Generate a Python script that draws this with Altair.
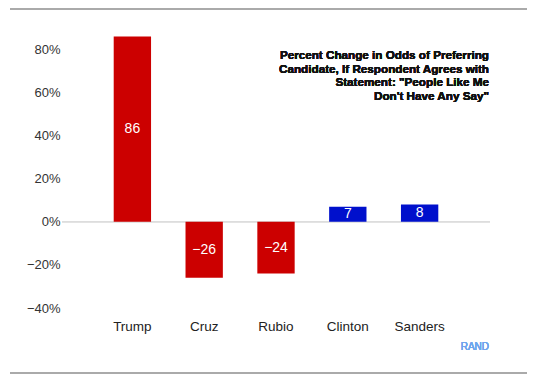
import altair as alt
import pandas as pd

candidates = ["Trump", "Cruz", "Rubio", "Clinton", "Sanders"]
values = [86, -26, -24, 7, 8]
parties = ["R", "R", "R", "D", "D"]
y_ticks = [-40, -20, 0, 20, 40, 60, 80]
title_lines = [
    "Percent Change in Odds of Preferring",
    "Candidate, If Respondent Agrees with",
    "Statement: \"People Like Me",
    "Don't Have Any Say\"",
]
source_label = "RAND"

labels = [("\u2212" + str(abs(v))) if v < 0 else str(v) for v in values]
df = pd.DataFrame({"cand": candidates, "v": values, "party": parties,
                   "label": labels, "mid": [v / 2 for v in values]})

FONT = "Liberation Sans"
W, H = 428, 278

x = alt.X("cand:N", sort=candidates,
          scale=alt.Scale(paddingInner=0.48, paddingOuter=0.72),
          axis=alt.Axis(title=None, labelAngle=0, domain=False, ticks=False, grid=False,
                        labelPadding=11, labelFontSize=13.5, labelColor="#222",
                        labelFont=FONT))
yscale = alt.Scale(domain=[-40, 89], nice=False, zero=False)

bars = alt.Chart(df).mark_bar().encode(
    x=x,
    y=alt.Y("v:Q", scale=yscale,
            axis=alt.Axis(title=None, values=y_ticks, domain=False, ticks=False,
                          grid=False, labelPadding=2, labelFontSize=13,
                          labelColor="#333", labelFont=FONT,
                          labelExpr="(datum.value < 0 ? '\u2212' + abs(datum.value) : datum.value) + '%'")),
    y2=alt.datum(0),
    color=alt.Color("party:N", scale=alt.Scale(domain=["R", "D"], range=["#CC0000", "#0010CC"]),
                    legend=None),
)

texts = alt.Chart(df).mark_text(color="white", fontSize=14, font=FONT, baseline="middle").encode(
    x=alt.X("cand:N", sort=candidates),
    y=alt.Y("mid:Q", scale=yscale),
    text="label:N",
)

zero = alt.Chart(df).mark_rule(color="#dddddd", strokeWidth=1).encode(
    y=alt.datum(0), x=alt.value(0), x2=alt.value(W))

title = alt.Chart(df).mark_text(align="right", baseline="alphabetic", fontSize=11.7,
                                fontWeight="bold", font=FONT, lineHeight=13.5,
                                color="#111").encode(
    x=alt.value(427), y=alt.value(29), text=alt.value(title_lines))

rand = alt.Chart(df).mark_text(align="right", baseline="middle", fontSize=10,
                               fontWeight="normal", font=FONT, color="#6ea5ee").encode(
    x=alt.value(427), y=alt.value(317), text=alt.value(source_label))

top_rule = alt.Chart(df).mark_rule(color="#aaaaaa", strokeWidth=1.5).encode(
    x=alt.value(-52), x2=alt.value(465), y=alt.value(-21))
bot_rule = alt.Chart(df).mark_rule(color="#aaaaaa", strokeWidth=1.5).encode(
    x=alt.value(-52), x2=alt.value(465), y=alt.value(343))

chart = alt.layer(zero, bars, texts, title, rand, top_rule, bot_rule).properties(
    width=W, height=H,
    background="white",
    autosize=alt.AutoSizeParams(type="none"),
    padding={"left": 54, "top": 22, "right": 37, "bottom": 66},
).configure_view(strokeWidth=0)

chart.save("out.html", embed_options={"renderer": "svg", "actions": False})
